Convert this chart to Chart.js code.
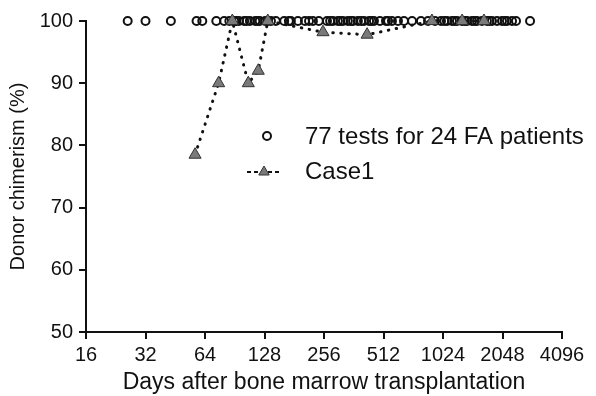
<!DOCTYPE html>
<html><head><meta charset="utf-8">
<script src="https://cdn.jsdelivr.net/npm/chart.js@4.4.1/dist/chart.umd.min.js"></script>
<style>html,body{margin:0;padding:0;background:#fff}canvas{display:block}</style>
</head><body>
<canvas id="c" width="596" height="396"></canvas>
<script>
const xTickValues = [16, 32, 64, 128, 256, 512, 1024, 2048, 4096];
const yTickValues = [50, 60, 70, 80, 90, 100];
const seriesLabels = ['77 tests for 24 FA patients', 'Case1'];
const xTitle = 'Days after bone marrow transplantation';
const yTitle = 'Donor chimerism (%)';

const testDays = [26, 32, 43, 58, 62, 73, 80, 85, 90, 92, 95, 101, 104, 108, 115, 118, 121, 129, 133, 138, 146,
  161, 170, 174, 189, 205, 215, 225, 241, 265, 275, 284, 301, 310, 319, 338, 350, 359, 380, 395, 408, 433, 445, 458,
  491, 527, 540, 565, 606, 650, 714, 792, 860, 933, 1000, 1040, 1073, 1137, 1170, 1205, 1277, 1320, 1354, 1435, 1480,
  1521, 1612, 1709, 1760, 1812, 1921, 2036, 2100, 2158, 2288, 2397, 2823];
const testChimerism = [100, 100, 100, 100, 100, 100, 100, 100, 100, 100, 100, 100, 100, 100, 100, 100, 100, 100, 100, 100, 100,
  100, 100, 100, 100, 100, 100, 100, 100, 100, 100, 100, 100, 100, 100, 100, 100, 100, 100, 100, 100, 100, 100, 100,
  100, 100, 100, 100, 100, 100, 100, 100, 100, 100, 100, 100, 100, 100, 100, 100, 100, 100, 100, 100, 100,
  100, 100, 100, 100, 100, 100, 100, 100, 100, 100, 100, 100];

const case1Days = [57, 75, 88, 106, 119, 133, 253, 423, 900, 1280, 1650];
const case1Chimerism = [78.5, 90, 100, 90, 92, 100, 98.2, 97.8, 100, 100, 100];

const FONT = '"Liberation Sans", Arial, sans-serif';
const INK = '#111';

const legendPlugin = {
  id: 'insideLegend',
  afterDraw(chart) {
    const ctx = chart.ctx;
    const ds = chart.data.datasets;
    ctx.save();
    ctx.font = '24px ' + FONT;
    ctx.fillStyle = INK;
    ctx.textBaseline = 'middle';
    ctx.lineWidth = 2;
    ctx.strokeStyle = INK;
    ctx.beginPath();
    ctx.arc(267, 136, 4, 0, Math.PI * 2);
    ctx.stroke();
    ctx.fillText(ds[0].label, 305, 137);
    ctx.setLineDash([4, 3]);
    ctx.lineWidth = 2;
    ctx.beginPath();
    ctx.moveTo(247, 172);
    ctx.lineTo(281, 172);
    ctx.stroke();
    ctx.setLineDash([]);
    const r = 6;
    ctx.beginPath();
    ctx.moveTo(264, 172 - r);
    ctx.lineTo(264 + r * 0.87, 172 + r * 0.5);
    ctx.lineTo(264 - r * 0.87, 172 + r * 0.5);
    ctx.closePath();
    ctx.fillStyle = '#7a7a7a';
    ctx.fill();
    ctx.lineWidth = 1;
    ctx.strokeStyle = '#333';
    ctx.stroke();
    ctx.fillStyle = INK;
    ctx.fillText(ds[1].label, 305, 172);
    ctx.restore();
  }
};

new Chart(document.getElementById('c'), {
  type: 'scatter',
  data: {
    datasets: [
      {
        label: seriesLabels[0],
        data: testDays.map((d, i) => ({x: d, y: testChimerism[i]})),
        showLine: false,
        pointStyle: 'circle',
        pointRadius: 4,
        pointBorderWidth: 2,
        pointBorderColor: INK,
        pointBackgroundColor: 'rgba(255,255,255,0)',
        clip: false,
        order: 2
      },
      {
        label: seriesLabels[1],
        data: case1Days.map((d, i) => ({x: d, y: case1Chimerism[i]})),
        showLine: true,
        borderColor: INK,
        borderWidth: 3,
        borderDash: [0.5, 7.5],
        borderCapStyle: 'round',
        tension: 0,
        pointStyle: 'triangle',
        pointRadius: 7,
        pointBorderWidth: 1,
        pointBorderColor: '#333',
        pointBackgroundColor: '#7a7a7a',
        clip: false,
        order: 1
      }
    ]
  },
  options: {
    responsive: false,
    animation: false,
    devicePixelRatio: 1,
    layout: {padding: {top: 21, right: 34, bottom: 0, left: 0}},
    plugins: {legend: {display: false}, tooltip: {enabled: false}},
    scales: {
      x: {
        type: 'logarithmic',
        min: 16, max: 4096,
        afterBuildTicks: s => { s.ticks = xTickValues.map(v => ({value: v})); },
        afterFit: s => { s.height = 64; },
        ticks: {
          color: INK,
          font: {family: FONT, size: 20},
          padding: 4,
          maxRotation: 0,
          autoSkip: false,
          callback: v => String(v)
        },
        grid: {display: true, drawOnChartArea: false, drawTicks: true, tickLength: 7, color: INK, lineWidth: 2},
        border: {display: true, color: INK, width: 2},
        title: {display: true, text: xTitle, color: INK, font: {family: FONT, size: 23}, padding: {top: 0, bottom: 0}}
      },
      y: {
        type: 'linear',
        min: 50, max: 100,
        afterBuildTicks: s => { s.ticks = yTickValues.map(v => ({value: v})); },
        afterFit: s => { s.width = 86; },
        ticks: {color: INK, font: {family: FONT, size: 20}, padding: 6},
        grid: {display: true, drawOnChartArea: false, drawTicks: true, tickLength: 7, color: INK, lineWidth: 2},
        border: {display: true, color: INK, width: 2},
        title: {display: true, text: yTitle, color: INK, font: {family: FONT, size: 20}, padding: {top: 6, bottom: 0}}
      }
    }
  },
  plugins: [legendPlugin]
});
</script>
</body></html>
